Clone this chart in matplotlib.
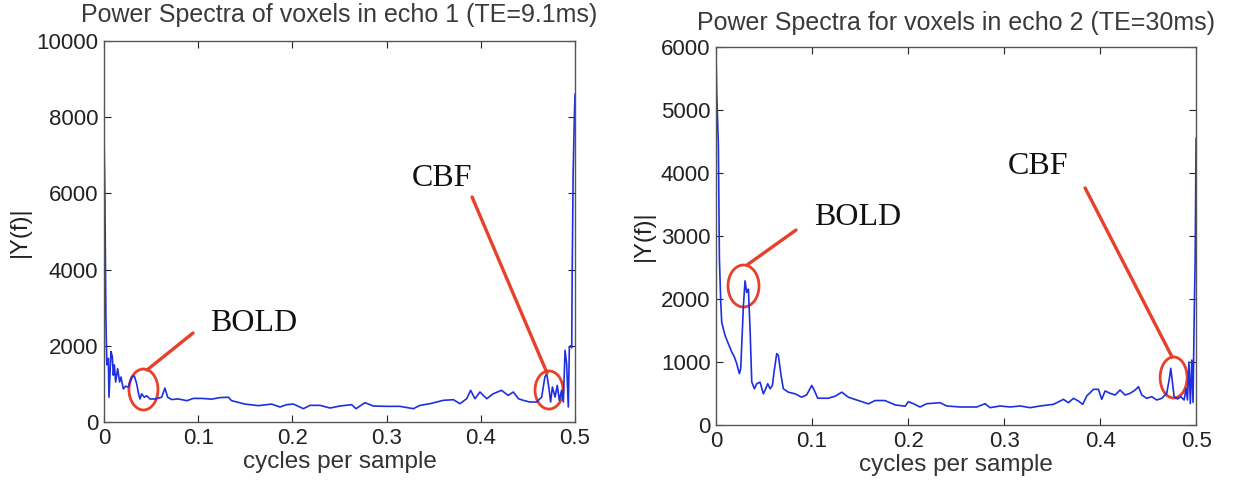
import matplotlib
matplotlib.use("Agg")
import matplotlib.pyplot as plt  # noqa: E402
from matplotlib.patches import Ellipse  # noqa: E402

# echo 1 (TE=9.1ms) spectrum
f_echo1 = [0.0, 0.001, 0.002, 0.003, 0.0046, 0.0053, 0.0074, 0.0088, 0.0099, 0.0110,
           0.0124, 0.0145, 0.0166, 0.0180, 0.0205, 0.0230, 0.0258, 0.0294, 0.0322,
           0.0347, 0.0364, 0.0382, 0.0400, 0.0428, 0.0453, 0.0488, 0.0541, 0.0612,
           0.0647, 0.0676, 0.0718, 0.0789, 0.088, 0.095, 0.1037, 0.1143, 0.123,
           0.1320, 0.1355, 0.1497, 0.1638, 0.1780, 0.1868, 0.1939, 0.201, 0.2116,
           0.2187, 0.2293, 0.240, 0.2505, 0.2629, 0.2675, 0.277, 0.2859, 0.300,
           0.3142, 0.3284, 0.3355, 0.3461, 0.3602, 0.3708, 0.3779, 0.385, 0.3892,
           0.3938, 0.3991, 0.4062, 0.4133, 0.422, 0.429, 0.4346, 0.4399, 0.445,
           0.452, 0.4593, 0.4646, 0.468, 0.470, 0.4724, 0.4741, 0.476, 0.4788,
           0.4812, 0.4833, 0.4858, 0.4876, 0.4894, 0.4911, 0.4929, 0.494, 0.4954,
           0.4965, 0.497, 0.498, 0.4993, 0.5]
v_echo1 = [7650, 5800, 2800, 1500, 1670, 650, 1850, 1720, 1230, 1500,
           1050, 1400, 1050, 1180, 870, 940, 915, 1180, 1210,
           1005, 780, 605, 740, 650, 690, 605, 605, 650,
           890, 650, 590, 605, 560, 620, 620, 600, 640,
           650, 560, 470, 430, 470, 394, 455, 472, 350,
           437, 437, 367, 420, 455, 350, 507, 420, 411,
           411, 350, 437, 481, 569, 586, 481, 612, 831,
           612, 787, 612, 744, 831, 700, 787, 612, 569,
           525, 525, 656, 1181, 1269, 875, 525, 919, 656,
           962, 569, 831, 525, 1881, 1531, 394, 1969, 2000,
           1950, 3900, 6500, 8000, 8600]

# echo 2 (TE=30ms) spectrum
f_echo2 = [0.0, 0.0007, 0.0024, 0.0035, 0.0049, 0.0059, 0.0094, 0.0128, 0.0163,
           0.0191, 0.0215, 0.0243, 0.0257, 0.0285, 0.0302, 0.0319, 0.0337, 0.0354,
           0.0372, 0.0399, 0.0424, 0.0458, 0.0493, 0.0517, 0.0538, 0.0563, 0.0587,
           0.0604, 0.0632, 0.0649, 0.0677, 0.0701, 0.0753, 0.0823, 0.0892, 0.0944,
           0.0997, 0.1024, 0.1059, 0.1170, 0.1240, 0.1309, 0.1378, 0.1483, 0.1587,
           0.1656, 0.1760, 0.1865, 0.1969, 0.2003, 0.2056, 0.2125, 0.2194, 0.2333,
           0.2403, 0.2542, 0.2715, 0.2802, 0.2854, 0.2958, 0.3063, 0.3167, 0.3271,
           0.3375, 0.3514, 0.3618, 0.3670, 0.3722, 0.3774, 0.3819, 0.3861, 0.3931,
           0.3983, 0.4017, 0.4052, 0.4104, 0.4156, 0.4208, 0.4260, 0.4313, 0.4365,
           0.440, 0.4434, 0.4486, 0.4538, 0.4590, 0.4642, 0.4694, 0.4722, 0.4736,
           0.4753, 0.4771, 0.4806, 0.4840, 0.4875, 0.4896, 0.4910, 0.4925, 0.494,
           0.4955, 0.4968, 0.498, 0.499, 0.5]
v_echo2 = [5900, 5260, 4450, 2630, 1950, 1630, 1420, 1290, 1160,
           1080, 975, 815, 895, 1894, 2288, 2104, 2157, 1525,
           684, 575, 655, 680, 495, 575, 655, 575, 628,
           840, 1133, 1107, 787, 575, 521, 495, 441, 479,
           628, 548, 425, 425, 457, 521, 441, 388, 335,
           388, 388, 319, 298, 370, 338, 286, 338, 354,
           302, 286, 286, 338, 275, 302, 286, 302, 275,
           302, 328, 407, 354, 423, 381, 328, 460, 566,
           566, 407, 540, 503, 476, 555, 476, 503, 555,
           608, 476, 423, 450, 397, 423, 503, 740, 900,
           688, 450, 413, 450, 397, 582, 397, 1000, 340,
           1030, 360, 1700, 2600, 4550]

titles = ["Power Spectra of voxels in echo 1 (TE=9.1ms)",
          "Power Spectra for voxels in echo 2 (TE=30ms)"]
title_pad = [14, 12]
y_max = [10000, 6000]
y_step = [2000, 1000]
x_ticks = [0, 0.1, 0.2, 0.3, 0.4, 0.5]
x_tick_labels = ["0", "0.1", "0.2", "0.3", "0.4", "0.5"]

# annotations: (label, ellipse centre, ellipse size, line from, line to, text position)
notes = [
    [("BOLD", (0.0419, 853), (0.0308, 1076), (0.0456, 1365), (0.0945, 2336), (0.1592, 2598)),
     ("CBF", (0.4724, 840), (0.0297, 1000), (0.4703, 1286), (0.3907, 5906), (0.3588, 6404))],
    [("BOLD", (0.0286, 2206), (0.0323, 667), (0.0323, 2540), (0.0833, 3095), (0.1479, 3286)),
     ("CBF", (0.4766, 754), (0.0281, 651), (0.475, 1079), (0.3844, 3762), (0.3354, 4095))],
]

plt.rcParams["font.family"] = ["Liberation Sans", "DejaVu Sans"]
BLUE = "#1d2fe0"
RED = "#e8402a"

fig = plt.figure(figsize=(12.35, 4.91), dpi=100)
axes = [fig.add_axes([0.0842, 0.1405, 0.3814, 0.776]),
        fig.add_axes([0.5798, 0.1344, 0.3887, 0.770])]

for i, ax in enumerate(axes):
    xs, ys = [(f_echo1, v_echo1), (f_echo2, v_echo2)][i]
    ax.plot(xs, ys, color=BLUE, lw=1.2)
    ax.set_xlim(0, 0.5)
    ax.set_ylim(0, y_max[i])
    ax.set_xticks(x_ticks)
    ax.set_xticklabels(x_tick_labels)
    ax.set_yticks(range(0, y_max[i] + 1, y_step[i]))
    ax.tick_params(direction="in", top=True, right=True, length=5, width=0.8,
                   labelsize=16, colors="#222222", pad=4)
    for sp in ax.spines.values():
        sp.set_color("#555555")
        sp.set_linewidth(1.0)
    ax.set_title(titles[i], fontsize=18, color="#3a3a3a", pad=title_pad[i])
    ax.set_xlabel("cycles per sample", fontsize=17.5, color="#333333", labelpad=2)
    ax.set_ylabel("|Y(f)|", fontsize=17, color="#222222", labelpad=4)

    for label, c, size, p0, p1, tpos in notes[i]:
        ax.add_patch(Ellipse(c, size[0], size[1], fill=False, ec=RED, lw=2.0))
        ax.plot([p0[0], p1[0]], [p0[1], p1[1]], color=RED, lw=2.4,
                solid_capstyle="round")
        ax.text(tpos[0], tpos[1], label, fontsize=23, family="Liberation Serif",
                ha="center", va="center", color="#111111")

fig.savefig("out.png", dpi=100)
